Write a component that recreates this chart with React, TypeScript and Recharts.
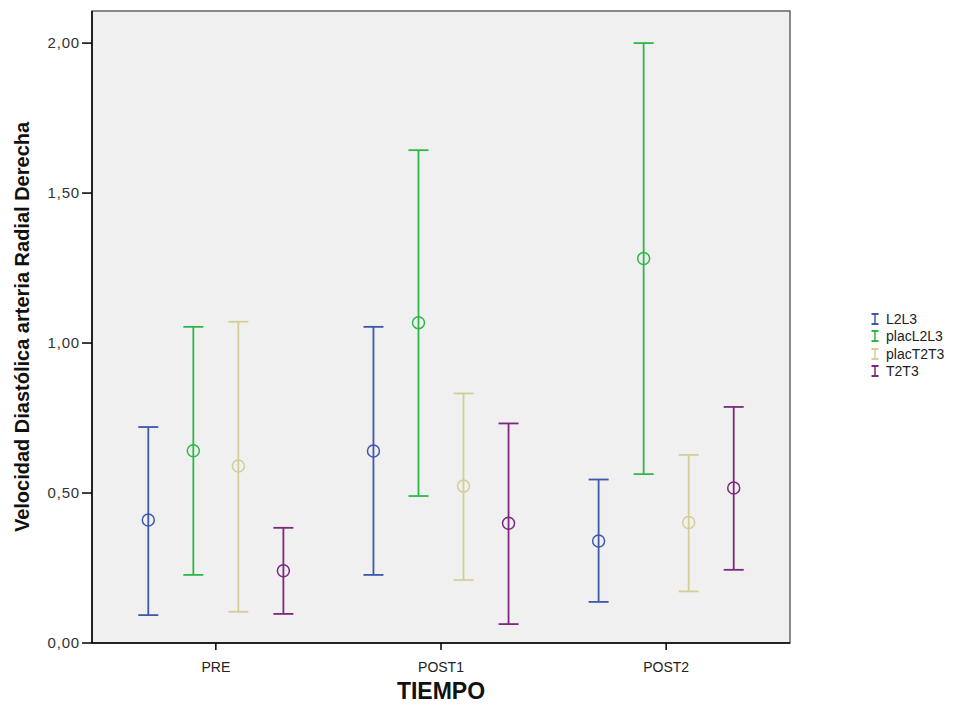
import React from 'react';
import {
  ScatterChart,
  Scatter,
  XAxis,
  YAxis,
  ErrorBar,
  ReferenceArea,
} from 'recharts';

const tiempos = ['PRE', 'POST1', 'POST2'];
const grupos = ['L2L3', 'placL2L3', 'placT2T3', 'T2T3'];
const colores = ['#3E58AC', '#2EB848', '#D3CE97', '#7C287D'];

// medias y limites del IC por grupo (PRE, POST1, POST2)
const mediaL2L3 = [0.41, 0.64, 0.34];
const infL2L3 = [0.093, 0.227, 0.137];
const supL2L3 = [0.72, 1.054, 0.545];

const mediaPlacL2L3 = [0.641, 1.068, 1.282];
const infPlacL2L3 = [0.227, 0.49, 0.563];
const supPlacL2L3 = [1.054, 1.643, 2.0];

const mediaPlacT2T3 = [0.59, 0.523, 0.402];
const infPlacT2T3 = [0.104, 0.21, 0.172];
const supPlacT2T3 = [1.071, 0.832, 0.627];

const mediaT2T3 = [0.241, 0.399, 0.517];
const infT2T3 = [0.097, 0.063, 0.244];
const supT2T3 = [0.384, 0.732, 0.787];

const yTicks = [0, 0.5, 1, 1.5, 2];

const medias = [mediaL2L3, mediaPlacL2L3, mediaPlacT2T3, mediaT2T3];
const inferiores = [infL2L3, infPlacL2L3, infPlacT2T3, infT2T3];
const superiores = [supL2L3, supPlacL2L3, supPlacT2T3, supT2T3];
const desplazamiento = [-0.3, -0.1, 0.1, 0.3];

const series = grupos.map((g, gi) =>
  tiempos.map((t, ti) => ({
    tiempo: t,
    x: ti + desplazamiento[gi],
    y: medias[gi][ti],
    err: [medias[gi][ti] - inferiores[gi][ti], superiores[gi][ti] - medias[gi][ti]],
  }))
);

const coma = (v: number) => v.toFixed(2).replace('.', ',');

function Circulo(color: string) {
  return (p: any) => (
    <circle cx={p.cx} cy={p.cy} r={6} fill="none" stroke={color} strokeWidth={1.5} />
  );
}

function IconoI({ color }: { color: string }) {
  return (
    <svg width={10} height={14} style={{ display: 'block' }}>
      <line x1={5} y1={2} x2={5} y2={12} stroke={color} strokeWidth={1.5} />
      <line x1={1.5} y1={2} x2={8.5} y2={2} stroke={color} strokeWidth={2} />
      <line x1={1.5} y1={12} x2={8.5} y2={12} stroke={color} strokeWidth={2} />
    </svg>
  );
}

export default function App() {
  return (
    <div style={{ position: 'relative', width: 965, height: 699, fontFamily: 'Arial, "Liberation Sans", sans-serif' }}>
      <ScatterChart width={965} height={699} margin={{ top: 3, right: 183, left: 0, bottom: 0 }}>
        <ReferenceArea x1={-0.55} x2={2.55} y1={0} y2={2.107} fill="#F0F0F0" fillOpacity={1} stroke="#666" strokeWidth={1.5} />
        <XAxis
          type="number"
          dataKey="x"
          domain={[-0.55, 2.55]}
          ticks={[0, 1, 2]}
          tickFormatter={(v: number) => tiempos[Math.round(v)]}
          height={64}
          allowDataOverflow
          axisLine={{ stroke: '#000', strokeWidth: 1.5 }}
          tickLine={{ stroke: '#000', strokeWidth: 1.5 }}
          tickSize={7}
          tick={{ fill: '#222', fontSize: 14, dy: 10 }}
          label={{ value: 'TIEMPO', position: 'insideBottom', offset: 8, fill: '#111', fontSize: 23, fontWeight: 'bold' }}
        />
        <YAxis
          type="number"
          dataKey="y"
          domain={[0, 2.107]}
          ticks={yTicks}
          tickFormatter={coma}
          width={84}
          allowDataOverflow
          axisLine={{ stroke: '#000', strokeWidth: 1.5 }}
          tickLine={{ stroke: '#000', strokeWidth: 1.5 }}
          tickSize={10}
          tick={{ fill: '#333', fontSize: 15, letterSpacing: 0.8 }}
          label={{
            value: 'Velocidad Diastólica arteria Radial Derecha',
            angle: -90,
            position: 'center',
            dx: -28,
            fill: '#111',
            fontSize: 20,
            fontWeight: 'bold',
          }}
        />
        {series.map((d, gi) => (
          <Scatter
            key={grupos[gi]}
            name={grupos[gi]}
            data={d}
            isAnimationActive={false}
            shape={Circulo(colores[gi])}
          >
            <ErrorBar dataKey="err" direction="y" width={10} stroke={colores[gi]} strokeWidth={1.8} />
          </Scatter>
        ))}
      </ScatterChart>
      <div style={{ position: 'absolute', left: 862, top: 302, fontSize: 14, color: '#222' }}>
        {grupos.map((g, i) => (
          <div key={g} style={{ display: 'flex', alignItems: 'center', height: 17.5 }}>
            <IconoI color={colores[i]} />
            <span style={{ marginLeft: 6 }}>{g}</span>
          </div>
        ))}
      </div>
    </div>
  );
}
